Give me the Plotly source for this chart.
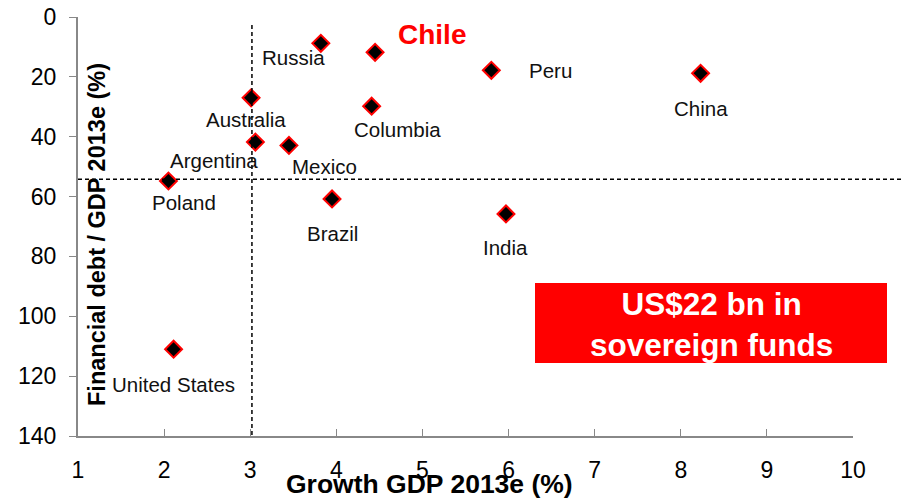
import plotly.graph_objects as go

countries = ["Russia", "Chile", "Peru", "China", "Australia", "Columbia", "Argentina",
             "Mexico", "Poland", "Brazil", "India", "United States"]
growth = [3.82, 4.45, 5.80, 8.23, 3.01, 4.41, 3.06, 3.45, 2.05, 3.95, 5.97, 2.11]
debt = [8.8, 11.8, 17.8, 18.8, 27.0, 29.8, 41.8, 42.9, 54.8, 60.8, 65.8, 111.0]

# label offsets in pixels (dx, dy) relative to each point
label_offsets = {
    "Russia": (-27, 14), "Chile": (57, -18), "Peru": (59, 0), "China": (0, 35),
    "Australia": (-5, 22), "Columbia": (26, 23), "Argentina": (-41, 18),
    "Mexico": (36, 21), "Poland": (16, 21), "Brazil": (0, 35), "India": (0, 34),
    "United States": (0, 35),
}

growth_threshold = 3.02
debt_threshold = 54.2

x_ticks = list(range(1, 11))
y_ticks = list(range(0, 141, 20))

FONT = "Liberation Sans, Arial, sans-serif"

# page body has an 8px default margin; plot area spans x 78..853, y 17..436 of the window
PW, PH = 775.0, 419.0


def px_x(p):
    return (p - 78) / PW


def px_y(p):
    return 1 - (p - 17) / PH


fig = go.Figure()
fig.add_trace(go.Scatter(
    x=growth, y=debt, mode="markers",
    marker=dict(symbol="diamond", size=13, color="black",
                line=dict(color="#ff0000", width=2)),
    hoverinfo="text", text=countries, showlegend=False,
))

annotations = []
for c, gx, dy_ in zip(countries, growth, debt):
    dx, dy = label_offsets[c]
    if c == "Chile":
        font = dict(family=FONT, size=28, color="#ff0000")
        txt = "<b>Chile</b>"
    else:
        font = dict(family=FONT, size=20.5, color="#111111")
        txt = c
    annotations.append(dict(x=gx, y=dy_, xref="x", yref="y", text=txt, showarrow=False,
                            xshift=dx, yshift=-dy, font=font,
                            xanchor="center", yanchor="middle"))

# axis titles
annotations.append(dict(x=px_x(429), y=px_y(484), xref="paper", yref="paper",
                        text="<b>Growth GDP 2013e (%)</b>", showarrow=False,
                        font=dict(family=FONT, size=26.5, color="black"),
                        xanchor="center", yanchor="middle"))
annotations.append(dict(x=px_x(97), y=px_y(235), xref="paper", yref="paper",
                        text="<b>Financial debt / GDP 2013e (%)</b>", showarrow=False,
                        textangle=-90,
                        font=dict(family=FONT, size=23.5, color="black"),
                        xanchor="center", yanchor="middle"))
# red box text
annotations.append(dict(x=px_x(711), y=px_y(324),
                        xref="paper", yref="paper",
                        text="<b>US$22 bn in<br>sovereign funds</b>", showarrow=False,
                        font=dict(family=FONT, size=31.5, color="white"),
                        xanchor="center", yanchor="middle"))

shapes = [
    dict(type="rect", xref="paper", yref="paper", x0=px_x(535), x1=px_x(887),
         y0=px_y(363), y1=px_y(283),
         fillcolor="#ff0000", line=dict(width=0), layer="below"),
    dict(type="line", xref="x", yref="y", x0=growth_threshold, x1=growth_threshold,
         y0=2.7, y1=140, line=dict(color="black", width=1.5, dash="4px,3px")),
    dict(type="line", xref="paper", yref="y", x0=0, x1=px_x(905),
         y0=debt_threshold, y1=debt_threshold,
         line=dict(color="black", width=1.5, dash="4px,3px")),
]

fig.update_layout(
    template="none",
    width=902, height=493,
    margin=dict(l=70, r=57, t=9, b=65, autoexpand=False),
    paper_bgcolor="white", plot_bgcolor="white",
    font=dict(family=FONT, color="black"),
    annotations=annotations, shapes=shapes,
    xaxis=dict(range=[1, 10], tickvals=x_ticks, ticks="inside", ticklen=7,
               tickcolor="#888888", showline=True, linecolor="#888888", linewidth=2,
               showgrid=False, zeroline=False, tickfont=dict(size=23, color="black"),
               ticklabelstandoff=12, automargin=False, ticklabeloverflow="allow"),
    yaxis=dict(range=[140, 0], tickvals=y_ticks, ticks="outside", ticklen=7,
               tickcolor="#888888", showline=True, linecolor="#888888", linewidth=2,
               showgrid=False, zeroline=False, tickfont=dict(size=23, color="black"),
               ticklabelstandoff=8, automargin=False, ticklabeloverflow="allow"),
)

fig.write_html("out.html")
